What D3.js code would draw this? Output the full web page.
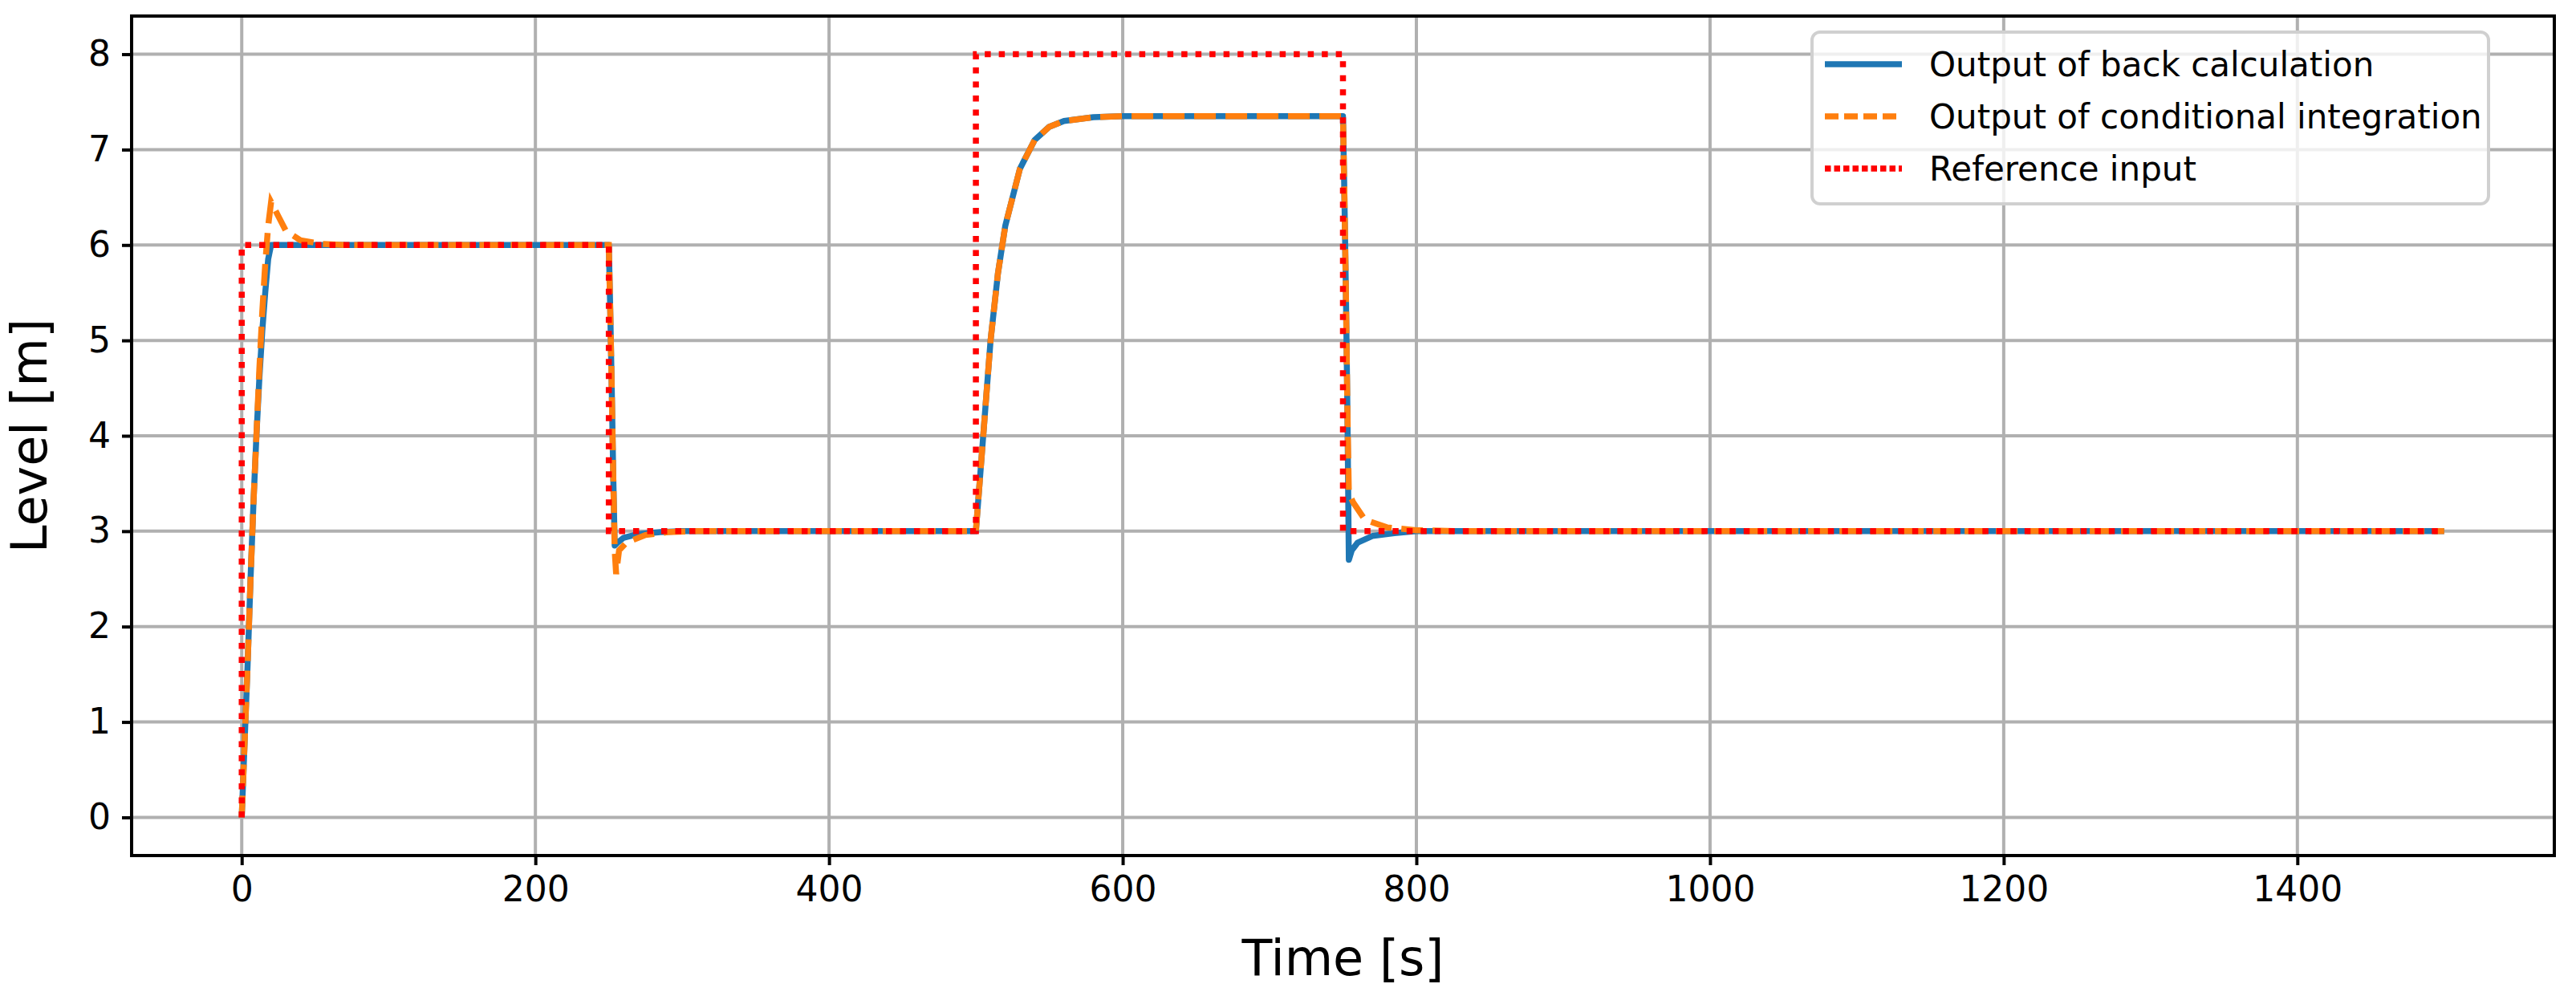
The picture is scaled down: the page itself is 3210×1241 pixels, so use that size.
<!DOCTYPE html>
<html><head><meta charset="utf-8">
<script src="https://cdn.jsdelivr.net/npm/d3@7"></script>
<style>body{margin:0;background:#fff}svg{font-family:"DejaVu Sans",sans-serif}</style>
</head><body><svg id="c" width="3210" height="1241"></svg>
<script>
const xTicks=[0,200,400,600,800,1000,1200,1400];
const yTicks=[0,1,2,3,4,5,6,7,8];
const refT=[0,0,250,250,500,500,750,750,1500];
const refV=[0,6,6,3,3,8,8,3,3];
const backT=[0,2,4,6,8,10,12,14,16,18,20,250,251,252,253,254,256,260,270,285,300,500,505,510,515,520,530,540,550,560,580,600,750,751,752,753,754,756,760,770,785,800,1500];
const backV=[0,0.8,1.6,2.5,3.3,4.0,4.6,5.1,5.5,5.85,6.0,6.0,5.3,4.5,3.6,2.85,2.88,2.93,2.97,2.99,3.0,3.0,4.0,5.0,5.7,6.2,6.8,7.1,7.24,7.3,7.34,7.35,7.35,6.5,5.5,4.3,2.7,2.8,2.88,2.95,2.98,3.0,3.0];
const condT=[0,2,4,6,8,10,12,14,16,18,20,25,30,40,55,70,250,251,252,253,254,255,257,262,275,290,310,500,505,510,515,520,530,540,550,560,580,600,750,751,752,753,754,757,765,780,800,830,1500];
const condV=[0,0.8,1.6,2.5,3.3,4.0,4.7,5.3,5.8,6.2,6.45,6.3,6.15,6.05,6.01,6.0,6.0,5.3,4.5,3.6,2.8,2.55,2.8,2.88,2.96,2.99,3.0,3.0,4.0,5.0,5.7,6.2,6.8,7.1,7.24,7.3,7.34,7.35,7.35,6.5,5.5,4.3,3.4,3.3,3.12,3.04,3.01,3.0,3.0];
const labels=["Output of back calculation","Output of conditional integration","Reference input"];

const L=164,R=3183,T=20,B=1066;
const svg=d3.select("#c");
const x=d3.scaleLinear().domain([-75,1575]).range([L,R]);
const y=d3.scaleLinear().domain([-0.4,8.4]).range([B,T]);
const g=svg.append("g");
xTicks.forEach(t=>g.append("line").attr("x1",x(t)).attr("x2",x(t)).attr("y1",T).attr("y2",B).attr("stroke","#b0b0b0").attr("stroke-width",4));
yTicks.forEach(t=>g.append("line").attr("x1",L).attr("x2",R).attr("y1",y(t)).attr("y2",y(t)).attr("stroke","#b0b0b0").attr("stroke-width",4));
const xa=svg.append("g").attr("transform",`translate(0,${B})`).call(d3.axisBottom(x).tickValues(xTicks).tickSize(12).tickPadding(14).tickFormat(d3.format("d")));
const ya=svg.append("g").attr("transform",`translate(${L},0)`).call(d3.axisLeft(y).tickValues(yTicks).tickSize(12).tickPadding(14));
[xa,ya].forEach(a=>{a.select(".domain").remove();a.selectAll("line").attr("stroke-width",4);a.selectAll("text").attr("font-size",44).attr("font-family","DejaVu Sans")});
const line=d3.line().x(d=>x(d[0])).y(d=>y(d[1]));
svg.append("clipPath").attr("id","cl").append("rect").attr("x",L).attr("y",T).attr("width",R-L).attr("height",B-T);
const pg=svg.append("g").attr("clip-path","url(#cl)");
pg.append("path").attr("d",line(backT.map((t,i)=>[t,backV[i]]))).attr("fill","none").attr("stroke","#1f77b4").attr("stroke-width",7.5).attr("stroke-linejoin","round");
pg.append("path").attr("d",line(condT.map((t,i)=>[t,condV[i]]))).attr("fill","none").attr("stroke","#ff7f0e").attr("stroke-width",7.5).attr("stroke-dasharray","27,12");
pg.append("path").attr("d",line(refT.map((t,i)=>[t,refV[i]]))).attr("fill","none").attr("stroke","#ff0000").attr("stroke-width",7.5).attr("stroke-dasharray","7.5,10");
svg.append("rect").attr("x",L).attr("y",T).attr("width",R-L).attr("height",B-T).attr("fill","none").attr("stroke","#000").attr("stroke-width",4);
svg.append("text").attr("x",(L+R)/2).attr("y",1215).attr("text-anchor","middle").attr("font-size",62).text("Time [s]");
svg.append("text").attr("transform",`translate(58,${(T+B)/2}) rotate(-90)`).attr("text-anchor","middle").attr("font-size",62).text("Level [m]");
const lg=svg.append("g");
lg.append("rect").attr("x",2258).attr("y",40).attr("width",843).attr("height",214).attr("rx",10).attr("fill","rgba(255,255,255,0.8)").attr("stroke","#d0d0d0").attr("stroke-width",4);
const styles=[["#1f77b4","none"],["#ff7f0e","17,7"],["#ff0000","7.5,4"]];
labels.forEach((lab,i)=>{const yy=80+i*65;
 lg.append("line").attr("x1",2274).attr("x2",2370).attr("y1",yy).attr("y2",yy).attr("stroke",styles[i][0]).attr("stroke-width",7.5).attr("stroke-dasharray",styles[i][1]);
 lg.append("text").attr("x",2404).attr("y",yy+15).attr("font-size",42).text(lab);});
</script></body></html>
